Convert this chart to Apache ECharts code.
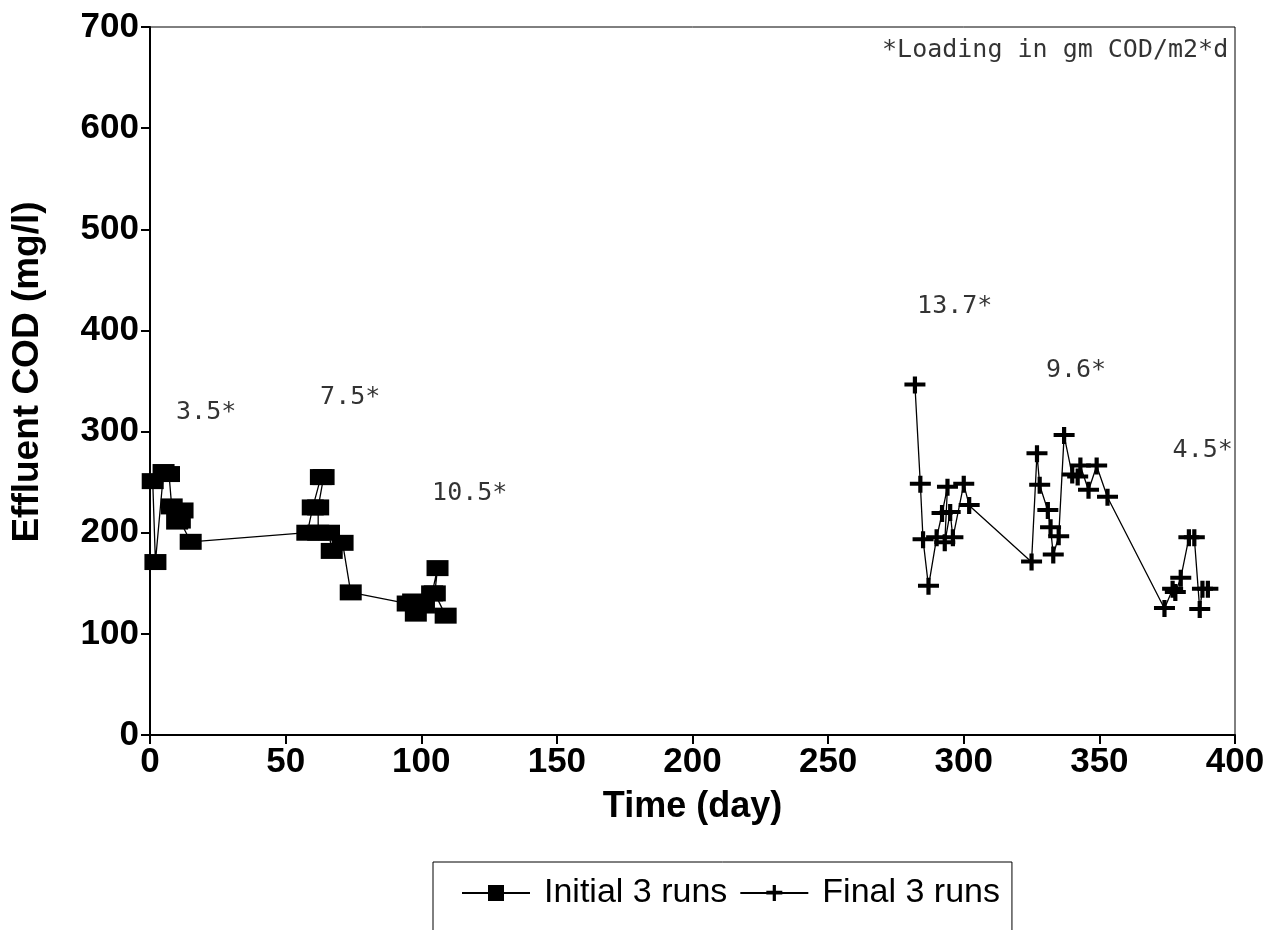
<!DOCTYPE html>
<html>
<head>
<meta charset="utf-8">
<script src="https://cdn.jsdelivr.net/npm/echarts@6/dist/echarts.min.js"></script>
<style>html,body{margin:0;padding:0;background:#fff;}#chart{width:1272px;height:930px;}</style>
</head>
<body>
<div id="chart"></div>
<script>
// ---- data ----
var initialDays = [1, 2, 5, 7, 8, 10, 12, 11, 15, 58, 60, 63, 64, 62, 62, 66, 67, 71, 74, 95, 97, 98, 101, 104, 106, 105, 109];
var initialCOD  = [251, 171, 260, 258, 226, 211, 222, 212, 191, 200, 225, 255, 255, 225, 200, 200, 182, 190, 141, 130, 132, 120, 128, 140, 165, 140, 118];

var finalDays = [282, 284, 285, 287, 290, 292, 294, 293, 295, 296, 300, 302, 325, 327, 328, 331, 332, 333, 335, 337, 340, 342, 343, 346, 349, 353, 374, 377, 378, 380, 383, 385, 387, 388, 390];
var finalCOD  = [346, 248, 193, 147, 195, 219, 245, 190, 220, 195, 248, 227, 171, 278, 247, 222, 205, 178, 196, 296, 257, 255, 266, 242, 266, 235, 125, 144, 141, 155, 195, 195, 124, 144, 144];

var loadLabels = ['3.5*', '7.5*', '10.5*', '13.7*', '9.6*', '4.5*'];
var loadDays   = [9.6, 62.7, 104, 282.8, 330.3, 377];
var loadCOD    = [319, 334, 239, 424, 360, 281];

var noteText = '*Loading in gm COD/m2*d';
var noteDay = 397.5, noteCOD = 677;

var xTicks = [0, 50, 100, 150, 200, 250, 300, 350, 400];
var yTicks = [0, 100, 200, 300, 400, 500, 600, 700];

var seriesNames = ['Initial 3 runs', 'Final 3 runs'];

function zip(a, b) { return a.map(function (v, i) { return [v, b[i]]; }); }

var crossPath = 'path://M8,0 H12 V6 H20 V10 H12 V17 H8 V10 H0 V6 H8 Z';

var chart = echarts.init(document.getElementById('chart'), null, { renderer: 'canvas' });
chart.setOption({
  backgroundColor: '#fff',
  animation: false,
  grid: { left: 150, right: 37, top: 27, bottom: 195, containLabel: false, outerBoundsMode: 'none',
    show: true, borderColor: '#000', borderWidth: 1, backgroundColor: 'transparent' },
  xAxis: {
    type: 'value', min: xTicks[0], max: xTicks[xTicks.length - 1], interval: 50,
    name: 'Time (day)', nameLocation: 'middle', nameGap: 54,
    nameTextStyle: { fontFamily: 'Liberation Sans', fontWeight: 'bold', fontSize: 36, color: '#000' },
    axisLine: { lineStyle: { color: '#000', width: 2 } },
    axisTick: { length: 9, lineStyle: { color: '#000', width: 2 } },
    axisLabel: { margin: 10, fontFamily: 'Liberation Sans', fontWeight: 'bold', fontSize: 35, color: '#000' },
    splitLine: { show: false }
  },
  yAxis: {
    type: 'value', min: yTicks[0], max: yTicks[yTicks.length - 1], interval: 100,
    name: 'Effluent COD (mg/l)', nameLocation: 'middle', nameGap: 104,
    nameTextStyle: { fontFamily: 'Liberation Sans', fontWeight: 'bold', fontSize: 37, color: '#000', padding: [0, 0, 0, 18] },
    axisLine: { lineStyle: { color: '#000', width: 2 } },
    axisTick: { length: 9, lineStyle: { color: '#000', width: 2 } },
    axisLabel: { margin: 11, fontFamily: 'Liberation Sans', fontWeight: 'bold', fontSize: 35, color: '#000' },
    splitLine: { show: false }
  },
  legend: {
    data: seriesNames,
    left: 433, top: 862,
    padding: [14, 12, 26, 28],
    borderColor: '#000', borderWidth: 1,
    itemWidth: 68, itemHeight: 20, itemGap: 12,
    textStyle: { fontFamily: 'Liberation Sans', fontSize: 34, color: '#000', padding: [0, 0, 0, 9] }
  },
  series: [
    {
      name: seriesNames[0], type: 'line', data: zip(initialDays, initialCOD),
      symbol: 'rect', symbolSize: [22, 16],
      itemStyle: { color: '#000' },
      lineStyle: { color: '#000', width: 1.3 }
    },
    {
      name: seriesNames[1], type: 'line', data: zip(finalDays, finalCOD),
      symbol: crossPath, symbolSize: [21, 17],
      itemStyle: { color: '#000' },
      lineStyle: { color: '#000', width: 1.3 }
    },
    {
      name: 'loading', type: 'scatter', symbolSize: 0,
      data: loadDays.map(function (d, i) { return { value: [d, loadCOD[i]], name: loadLabels[i] }; }),
      label: { show: true, position: [0, 0], align: 'left', verticalAlign: 'middle', formatter: '{b}',
        fontFamily: 'DejaVu Sans Mono', fontSize: 25, color: '#000' },
      silent: true
    },
    {
      name: 'note', type: 'scatter', symbolSize: 0,
      data: [{ value: [noteDay, noteCOD], name: noteText }],
      label: { show: true, position: [0, 0], align: 'right', verticalAlign: 'middle', formatter: '{b}',
        fontFamily: 'DejaVu Sans Mono', fontSize: 25, color: '#000' },
      silent: true
    }
  ]
});
</script>
</body>
</html>
